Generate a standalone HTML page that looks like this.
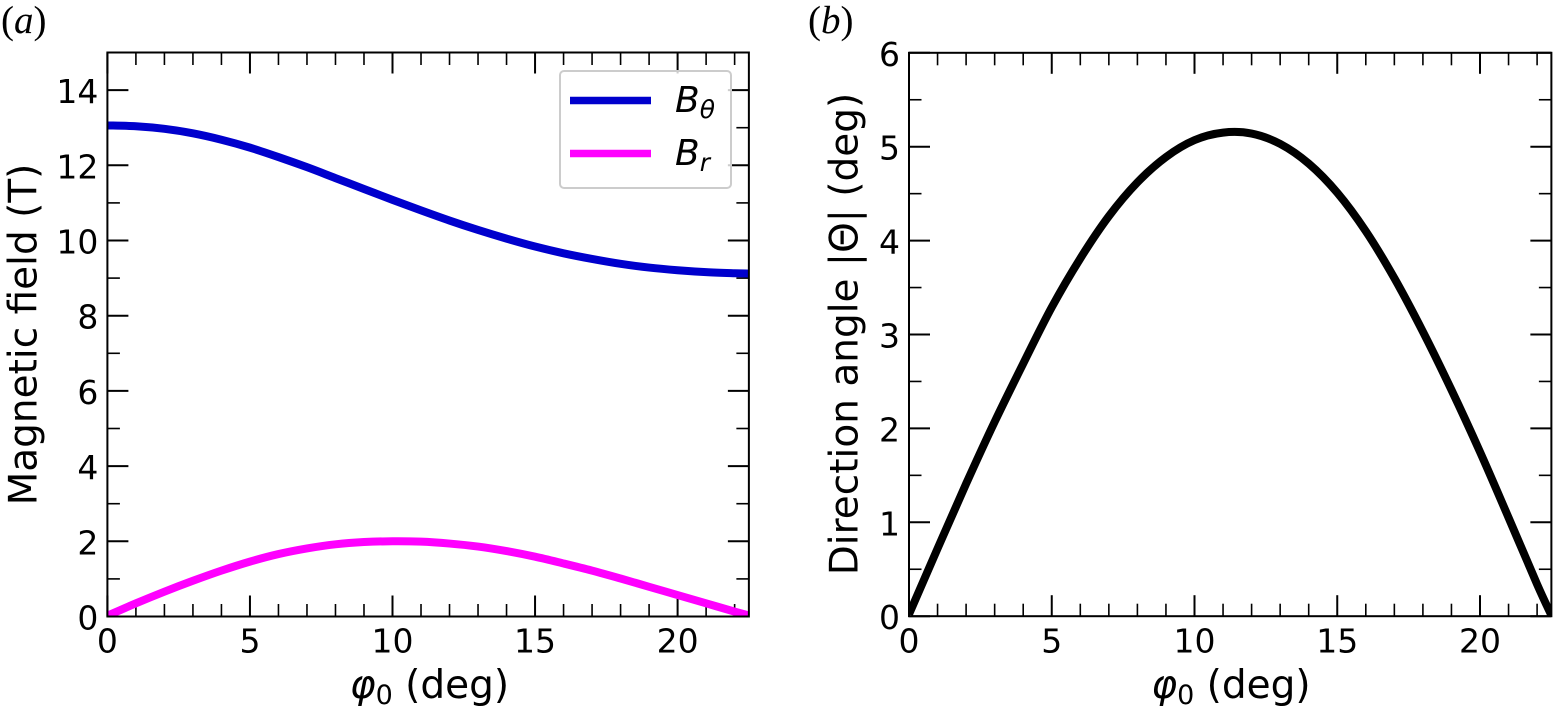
<!DOCTYPE html>
<html>
<head>
<meta charset="utf-8">
<style>
html,body{margin:0;padding:0;background:#fff;width:1554px;height:711px;overflow:hidden}
svg{display:block}
text{font-family:"DejaVu Sans",sans-serif;fill:#000}
.tick{font-size:33px}
.axl{font-size:39px}
.pan{font-family:"Liberation Serif",serif;font-size:39px}
</style>
</head>
<body>
<svg id="fig" width="1554" height="711" viewBox="0 0 1554 711" xmlns="http://www.w3.org/2000/svg">
<defs>
<clipPath id="clipA"><rect x="107.4" y="52.5" width="641.6" height="564"/></clipPath>
<clipPath id="clipB"><rect x="909" y="53" width="642.2" height="563.4"/></clipPath>
</defs>
<rect width="1554" height="711" fill="#fff"/>
<g id="panelA"></g>
<g id="panelB"></g>

<text class="pan" x="1" y="33">(<tspan font-style="italic">a</tspan>)</text>
<text class="pan" x="808" y="33">(<tspan font-style="italic">b</tspan>)</text>

<text class="axl" transform="translate(36.6,334.5) rotate(-90)" text-anchor="middle">Magnetic field (T)</text>
<text class="axl" transform="translate(857.5,334) rotate(-90)" text-anchor="middle">Direction angle |Θ| (deg)</text>
<text class="axl" x="429.5" y="698" text-anchor="middle"><tspan font-style="italic">φ</tspan><tspan font-size="27" dy="6">0</tspan><tspan dy="-6"> (deg)</tspan></text>
<text class="axl" x="1231" y="698" text-anchor="middle"><tspan font-style="italic">φ</tspan><tspan font-size="27" dy="6">0</tspan><tspan dy="-6"> (deg)</tspan></text>

<g>
<rect x="560" y="71" width="171" height="117" rx="4" ry="4" fill="#fff" fill-opacity="0.8" stroke="#ccc" stroke-width="2"/>
<line x1="570" x2="651" y1="100.5" y2="100.5" stroke="#0000cd" stroke-width="7.5"/>
<line x1="570" x2="651" y1="153.5" y2="153.5" stroke="#ff00ff" stroke-width="7.5"/>
<text x="675" y="112" font-size="36" font-style="italic">B<tspan font-size="25" dy="6">θ</tspan></text>
<text x="675" y="165" font-size="36" font-style="italic">B<tspan font-size="25" dy="6">r</tspan></text>
</g>
</svg>
<script>
const phiA = [0,1,2,3,4,5,6,7,8,9,10,11,12,13,14,15,16,17,18,19,20,21,22,22.5];
const bTheta = [13.06,13.04,12.97,12.85,12.68,12.47,12.22,11.95,11.66,11.37,11.08,10.80,10.53,10.28,10.05,9.84,9.66,9.51,9.38,9.28,9.21,9.16,9.13,9.12];
const bR = [0.02,0.35,0.66,0.95,1.22,1.46,1.66,1.81,1.92,1.98,2.00,1.99,1.94,1.86,1.74,1.59,1.41,1.22,1.01,0.79,0.57,0.35,0.13,0.03];
const phiB = [0,1,2,3,4,5,6,7,8,9,10,11,12,13,14,15,16,17,18,19,20,21,22,22.5];
const theta = [0.02,0.72,1.41,2.07,2.69,3.29,3.81,4.26,4.62,4.89,5.07,5.15,5.14,5.03,4.82,4.51,4.10,3.60,3.03,2.41,1.75,1.05,0.34,0.01];
const xMajor = [0,5,10,15,20];
const xMinor = [1,2,3,4,6,7,8,9,11,12,13,14,16,17,18,19,21,22];
const yMajorA = [0,2,4,6,8,10,12,14];
const yMinorA = [1,3,5,7,9,11,13];
const yMajorB = [0,1,2,3,4,5,6];
const yMinorB = [0.5,1.5,2.5,3.5,4.5,5.5];

const NS = 'http://www.w3.org/2000/svg';
function xA(v){ return 107.4 + v * 28.51; }
function yA(v){ return 616.5 - v * 37.6; }
function xB(v){ return 909 + v * 28.55; }
function yB(v){ return 616.2 - v * 93.9; }

function mk(parent, tag, attrs){
  const el = document.createElementNS(NS, tag);
  for (const k in attrs) el.setAttribute(k, attrs[k]);
  parent.appendChild(el);
  return el;
}
function smoothPath(xs, ys, fx, fy){
  const p = xs.map((x,i)=>[fx(x), fy(ys[i])]);
  let d = 'M' + p[0][0].toFixed(2) + ' ' + p[0][1].toFixed(2);
  for (let i=0;i<p.length-1;i++){
    const a = p[Math.max(i-1,0)], b = p[i], c = p[i+1], e = p[Math.min(i+2,p.length-1)];
    const c1x = b[0] + (c[0]-a[0])/6, c1y = b[1] + (c[1]-a[1])/6;
    const c2x = c[0] - (e[0]-b[0])/6, c2y = c[1] - (e[1]-b[1])/6;
    d += 'C' + [c1x,c1y,c2x,c2y,c[0],c[1]].map(n=>n.toFixed(2)).join(' ');
  }
  return d;
}
function drawTicks(g, fx, fy, yMaj, yMin, yMax){
  const L = fx(0), R = fx(22.5), T = fy(yMax), B = fy(0);
  const seg = (x1,y1,x2,y2,w,name) => {
    const t = mk(g, 'line', {x1:x1,y1:y1,x2:x2,y2:y2,stroke:'#000','stroke-width':w});
    
    
  };
  xMajor.forEach(v => { seg(fx(v),B,fx(v),B-21,2,'x-major-tick'); seg(fx(v),T,fx(v),T+21,2,'x-major-tick-top'); });
  xMinor.forEach(v => { seg(fx(v),B,fx(v),B-12.5,1.6,'x-minor-tick'); seg(fx(v),T,fx(v),T+12.5,1.6,'x-minor-tick-top'); });
  yMaj.forEach(v => { seg(L,fy(v),L+21,fy(v),2,'y-major-tick'); seg(R,fy(v),R-21,fy(v),2,'y-major-tick-right'); });
  yMin.forEach(v => { seg(L,fy(v),L+12.5,fy(v),1.6,'y-minor-tick'); seg(R,fy(v),R-12.5,fy(v),1.6,'y-minor-tick-right'); });
}
function drawLabels(g, fx, fy, yMaj){
  xMajor.forEach(v => {
    const t = mk(g, 'text', {x:fx(v), y:652.5, 'text-anchor':'middle', class:'tick'});
    t.textContent = String(v);
    
    
  });
  yMaj.forEach(v => {
    const t = mk(g, 'text', {x:fx(0)-9, y:fy(v)+13, 'text-anchor':'end', class:'tick'});
    t.textContent = String(v);
    
    
  });
}
function drawFrame(g, fx, fy, yMax){
  const f = mk(g, 'rect', {x:fx(0), y:fy(yMax), width:fx(22.5)-fx(0), height:fy(0)-fy(yMax), fill:'none', stroke:'#000', 'stroke-width':2});
  
  
}

const gA = document.getElementById('panelA');
drawTicks(gA, xA, yA, yMajorA, yMinorA, 15);
drawLabels(gA, xA, yA, yMajorA);
const lineTheta = mk(gA, 'path', {d:smoothPath(phiA,bTheta,xA,yA), fill:'none', stroke:'#0000cd', 'stroke-width':8, 'clip-path':'url(#clipA)'});


const lineR = mk(gA, 'path', {d:smoothPath(phiA,bR,xA,yA), fill:'none', stroke:'#ff00ff', 'stroke-width':8, 'clip-path':'url(#clipA)'});


drawFrame(gA, xA, yA, 15);

const gB = document.getElementById('panelB');
drawTicks(gB, xB, yB, yMajorB, yMinorB, 6);
drawLabels(gB, xB, yB, yMajorB);
const lineAngle = mk(gB, 'path', {d:smoothPath(phiB,theta,xB,yB), fill:'none', stroke:'#000', 'stroke-width':8, 'clip-path':'url(#clipB)'});


drawFrame(gB, xB, yB, 6);
</script>
</body>
</html>
